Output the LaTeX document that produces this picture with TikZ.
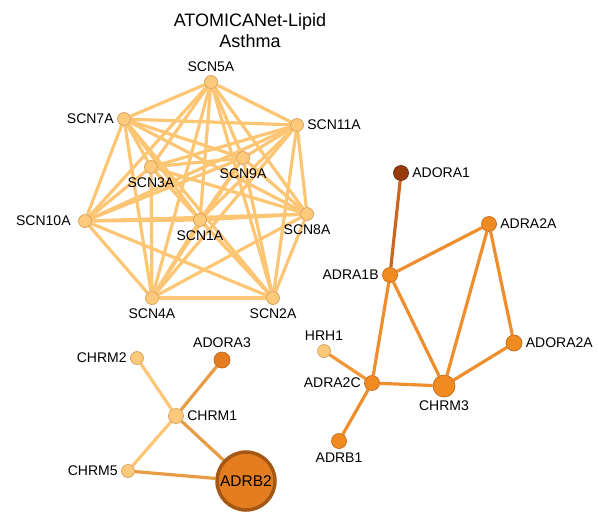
\documentclass[tikz,border=0pt]{standalone}
\usepackage{fontspec}
\setmainfont{Liberation Sans}
\usetikzlibrary{positioning, backgrounds}
\definecolor{cpale}{HTML}{FDC97A}
\definecolor{cpaleline}{HTML}{D6A058}
\definecolor{cpaleedge}{HTML}{FCC674}
\definecolor{corange}{HTML}{F08B22}
\definecolor{corangeline}{HTML}{C46A18}
\definecolor{corangeedge}{HTML}{EE8E2C}
\definecolor{cmid}{HTML}{E89C44}
\definecolor{cdark}{HTML}{983A0C}
\definecolor{cdarkline}{HTML}{6A2806}
\definecolor{cdarkedge}{HTML}{C9661F}
\definecolor{cbig}{HTML}{E37D20}
\definecolor{cbigline}{HTML}{A45814}
\tikzset{
  every picture/.style={x=1pt, y=-1pt, font=\fontsize{14}{16}\selectfont},
  gene/.style={circle, draw=#1line, fill=#1, line width=0.7pt, inner sep=0pt, minimum size=13pt},
  gene/.default=cpale,
  pale/.style={gene=cpale},
  hot/.style={gene=corange, minimum size=15pt},
  edge/.style={draw=#1, line width=3.2pt},
  edge/.default=cpaleedge,
  title/.style={font=\fontsize{18}{21}\selectfont, align=center},
}
\begin{document}
\begin{tikzpicture}
  \useasboundingbox (0,0) rectangle (599,512);
  \node[title] (head) at (250,31) {ATOMICANet-Lipid\\Asthma};
  % sodium channel cluster
  \node[pale, label=above:SCN5A] (scn5a) at (211,82) {};
  \node[pale, label=left:SCN7A] (scn7a) at (124,119) {};
  \node[pale, label=right:SCN11A] (scn11a) at (297,125) {};
  \node[pale, label=below:SCN9A] (scn9a) at (243,158) {};
  \node[pale, label=below:SCN3A] (scn3a) at (151,167) {};
  \node[pale, label={[label distance=4pt]left:SCN10A}] (scn10a) at (85,221) {};
  \node[pale, label=below:SCN1A] (scn1a) at (200,220) {};
  \node[pale, label=below:SCN8A] (scn8a) at (307,214) {};
  \node[pale, label=below:SCN4A] (scn4a) at (152,298) {};
  \node[pale, label=below:SCN2A] (scn2a) at (273,298) {};
  % adrenergic / adenosine cluster
  \node[gene=cdark, minimum size=15pt, label=right:ADORA1] (adora1) at (401,173) {};
  \node[hot, label=right:ADRA2A] (adra2a) at (489,224) {};
  \node[hot, label=left:ADRA1B] (adra1b) at (390,275) {};
  \node[pale, label=above:HRH1] (hrh1) at (324,351) {};
  \node[hot, minimum size=16pt, label=right:ADORA2A] (adora2a) at (514,343) {};
  \node[hot, label=left:ADRA2C] (adra2c) at (372,383) {};
  \node[hot, minimum size=22pt, label=below:CHRM3] (chrm3) at (444,386) {};
  \node[hot, label=below:ADRB1] (adrb1) at (339,441) {};
  % muscarinic cluster
  \node[pale, label=left:CHRM2] (chrm2) at (137,358) {};
  \node[gene=corange, fill=cbig, minimum size=16pt, label=above:ADORA3] (adora3) at (222,360) {};
  \node[pale, minimum size=15pt, label=right:CHRM1] (chrm1) at (176,416) {};
  \node[pale, label=left:CHRM5] (chrm5) at (128,471) {};
  \node[circle, draw=cbigline, fill=cbig, line width=3.5pt, minimum size=58pt, inner sep=0pt,
        font=\fontsize{15.5}{17}\selectfont] (adrb2) at (246,481) {ADRB2};
  \begin{scope}[on background layer]
    \foreach \u [count=\i] in {scn5a,scn7a,scn11a,scn9a,scn3a,scn10a,scn1a,scn8a,scn4a,scn2a}
      \foreach \v [count=\j] in {scn5a,scn7a,scn11a,scn9a,scn3a,scn10a,scn1a,scn8a,scn4a,scn2a}
        {\ifnum\i<\j \draw[edge] (\u) -- (\v); \fi}
    \draw[edge=cdarkedge] (adora1) -- (adra1b);
    \foreach \u/\v in {adra1b/adra2a, adra1b/chrm3, adra1b/adra2c, adra2a/chrm3,
                      adra2a/adora2a, adora2a/chrm3, adra2c/chrm3, adra2c/adrb1}
      \draw[edge=corangeedge] (\u) -- (\v);
    \draw[edge=corangeedge!80!cpaleedge] (hrh1) -- (adra2c);
    \draw[edge] (chrm2) -- (chrm1);
    \draw[edge] (chrm5) -- (chrm1);
    \draw[edge=cmid] (adora3) -- (chrm1);
    \draw[edge=cmid] (chrm1) -- (adrb2);
    \draw[edge=cmid] (chrm5) -- (adrb2);
  \end{scope}
\end{tikzpicture}
\end{document}
